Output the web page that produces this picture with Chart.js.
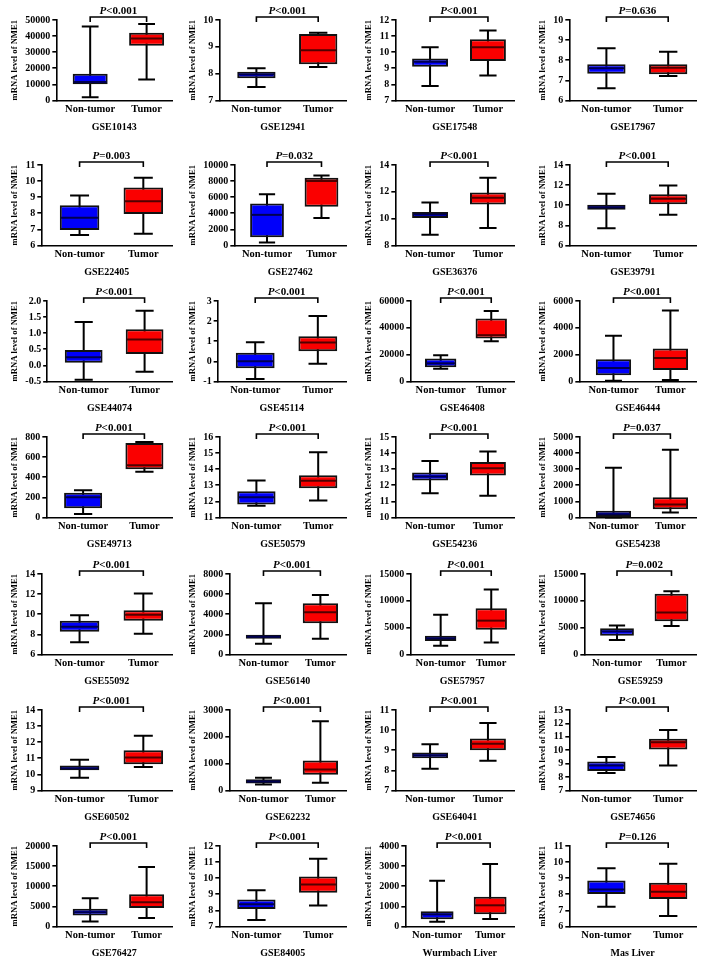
<!DOCTYPE html>
<html>
<head>
<meta charset="utf-8">
<script src="https://cdn.jsdelivr.net/npm/chart.js@4.4.0/dist/chart.umd.min.js"></script>
<style>
body { margin: 0; background: #fff; width: 714px; height: 964px; position: relative; overflow: hidden; }
.cell { position: absolute; height: 137px; }
</style>
</head>
<body>
<script>
// data: [min, q1, median, q3, max]
const datasetNames = ['GSE10143', 'GSE12941', 'GSE17548', 'GSE17967',
    'GSE22405', 'GSE27462', 'GSE36376', 'GSE39791',
    'GSE44074', 'GSE45114', 'GSE46408', 'GSE46444',
    'GSE49713', 'GSE50579', 'GSE54236', 'GSE54238',
    'GSE55092', 'GSE56140', 'GSE57957', 'GSE59259',
    'GSE60502', 'GSE62232', 'GSE64041', 'GSE74656',
    'GSE76427', 'GSE84005', 'Wurmbach Liver', 'Mas Liver']

const groups = ['Non-tumor', 'Tumor']

const pValues = ['<0.001', '<0.001', '<0.001', '=0.636',
    '=0.003', '=0.032', '<0.001', '<0.001',
    '<0.001', '<0.001', '<0.001', '<0.001',
    '<0.001', '<0.001', '<0.001', '=0.037',
    '<0.001', '<0.001', '<0.001', '=0.002',
    '<0.001', '<0.001', '<0.001', '<0.001',
    '<0.001', '<0.001', '<0.001', '=0.126']

const yMin = [0, 7, 7, 6, 6, 0, 8, 6, -0.5, -1, 0, 0, 0, 11, 10, 0, 6, 0, 0, 0, 9, 0, 7, 7, 0, 7, 0, 6]
const yMax = [50000, 10, 12, 10, 11, 10000, 14, 14, 2, 3, 60000, 6000, 800, 16, 15, 5000, 14, 8000, 15000, 15000, 14, 3000, 11, 13, 20000, 12, 4000, 11]
const yStep = [10000, 1, 1, 1, 1, 2000, 2, 2, 0.5, 1, 20000, 2000, 200, 1, 1, 1000, 2, 2000, 5000, 5000, 1, 1000, 1, 1, 5000, 1, 1000, 1]
const yDecimals = [0, 0, 0, 0, 0, 0, 0, 0, 1, 0, 0, 0, 0, 0, 0, 0, 0, 0, 0, 0, 0, 0, 0, 0, 0, 0, 0, 0]

const nonTumor = [
    [2000, 10000, 11500, 16500, 46000],
    [7.5, 7.83, 7.97, 8.07, 8.2],
    [7.9, 9.1, 9.4, 9.6, 10.3],
    [6.6, 7.33, 7.6, 7.8, 8.6],
    [6.65, 6.95, 7.72, 8.5, 9.1],
    [350, 1000, 3800, 5200, 6350],
    [8.8, 10.05, 10.3, 10.5, 11.2],
    [7.7, 9.55, 9.8, 10.05, 11.15],
    [-0.45, 0.08, 0.25, 0.48, 1.35],
    [-0.88, -0.35, 0.0, 0.42, 0.95],
    [9500, 10500, 13500, 17000, 19500],
    [50, 450, 1000, 1650, 3400],
    [35, 90, 200, 245, 270],
    [11.72, 11.8, 12.25, 12.62, 13.3],
    [11.5, 12.3, 12.55, 12.8, 13.5],
    [0, 30, 200, 420, 3080],
    [7.2, 8.25, 8.75, 9.35, 9.9],
    [1050, 1550, 1750, 1950, 5100],
    [1600, 2500, 3000, 3500, 7400],
    [2700, 3500, 4300, 4900, 5400],
    [9.78, 10.25, 10.38, 10.55, 10.9],
    [220, 260, 330, 420, 470],
    [8.08, 8.6, 8.75, 8.88, 9.3],
    [8.3, 8.45, 8.85, 9.15, 9.5],
    [1200, 2700, 3500, 4400, 7000],
    [7.4, 8.08, 8.38, 8.68, 9.25],
    [230, 350, 600, 750, 2270],
    [7.22, 8.02, 8.3, 8.85, 9.62]
]

const tumor = [
    [13000, 34000, 38500, 42000, 47500],
    [8.25, 8.35, 8.87, 9.48, 9.52],
    [8.55, 9.45, 10.3, 10.8, 11.35],
    [7.22, 7.3, 7.62, 7.8, 8.42],
    [6.72, 7.95, 8.75, 9.6, 10.2],
    [3400, 4800, 8000, 8400, 8700],
    [9.3, 11.05, 11.55, 11.95, 13.05],
    [9.05, 10.1, 10.65, 11.1, 11.95],
    [-0.2, 0.35, 0.8, 1.12, 1.7],
    [-0.12, 0.5, 0.93, 1.25, 2.25],
    [30000, 32000, 34500, 47000, 52500],
    [100, 850, 1750, 2450, 5300],
    [455, 480, 520, 740, 750],
    [12.05, 12.82, 13.28, 13.62, 15.05],
    [11.35, 12.6, 13.05, 13.45, 14.1],
    [300, 500, 800, 1250, 4200],
    [8.05, 9.35, 9.95, 10.4, 12.05],
    [1550, 3100, 4200, 5100, 5900],
    [2200, 4600, 6300, 8600, 12100],
    [5300, 6200, 7800, 11300, 11800],
    [10.45, 10.62, 11.05, 11.5, 12.4],
    [290, 580, 780, 1120, 2580],
    [8.48, 9.0, 9.32, 9.58, 10.35],
    [8.85, 10.05, 10.6, 10.85, 11.5],
    [2100, 4600, 6000, 8000, 14800],
    [8.3, 9.1, 9.6, 10.1, 11.2],
    [370, 600, 1050, 1480, 3100],
    [6.65, 7.7, 8.15, 8.72, 9.9]
]

const SERIF = '"Liberation Serif", "Times New Roman", serif'
const fillColors = ['#0000fa', '#fa0000']
const medianColors = ['#000050', '#500000']

// page layout
const rowTops = [0, 145, 281, 417, 554, 690, 826]
const colLefts = [10, 188, 364, 538]
const colWidths = [164, 160, 152, 160]

// whiskers behind the boxes, medians + bracket on top
const boxPlugin = {
    id: 'boxes',
    beforeDatasetsDraw(chart) {
        let ctx = chart.ctx
        let y = chart.scales.y
        let stats = chart.options.plugins.boxes.stats
        chart.getDatasetMeta(0).data.forEach((bar, i) => {
            let s = stats[i]
            let cap = bar.width * 0.24
            ctx.save()
            ctx.strokeStyle = '#000'
            ctx.lineWidth = 2
            ctx.beginPath()
            ctx.moveTo(bar.x, y.getPixelForValue(s[0]))
            ctx.lineTo(bar.x, y.getPixelForValue(s[4]))
            ctx.moveTo(bar.x - cap, y.getPixelForValue(s[0]))
            ctx.lineTo(bar.x + cap, y.getPixelForValue(s[0]))
            ctx.moveTo(bar.x - cap, y.getPixelForValue(s[4]))
            ctx.lineTo(bar.x + cap, y.getPixelForValue(s[4]))
            ctx.stroke()
            ctx.restore()
        })
    },
    afterDatasetsDraw(chart) {
        let ctx = chart.ctx
        let y = chart.scales.y
        let opts = chart.options.plugins.boxes
        let bars = chart.getDatasetMeta(0).data
        bars.forEach((bar, i) => {
            let s = opts.stats[i]
            let half = bar.width / 2 - 1
            ctx.save()
            ctx.strokeStyle = medianColors[i]
            ctx.lineWidth = 2
            ctx.beginPath()
            ctx.moveTo(bar.x - half, y.getPixelForValue(s[2]))
            ctx.lineTo(bar.x + half, y.getPixelForValue(s[2]))
            ctx.stroke()
            ctx.restore()
        })

        // significance bracket
        let top = chart.chartArea.top - 3
        let x0 = bars[0].x, x1 = bars[1].x
        ctx.save()
        ctx.strokeStyle = '#000'
        ctx.lineWidth = 1.6
        ctx.beginPath()
        ctx.moveTo(x0, top + 5)
        ctx.lineTo(x0, top)
        ctx.lineTo(x1, top)
        ctx.lineTo(x1, top + 5)
        ctx.stroke()

        ctx.fillStyle = '#000'
        ctx.textBaseline = 'alphabetic'
        let italic = 'italic bold 11px ' + SERIF
        let plain = 'bold 11px ' + SERIF
        ctx.font = italic
        let wP = ctx.measureText('P').width
        ctx.font = plain
        let wRest = ctx.measureText(opts.p).width
        let start = (x0 + x1) / 2 - (wP + wRest) / 2
        ctx.font = italic
        ctx.fillText('P', start, top - 3)
        ctx.font = plain
        ctx.fillText(opts.p, start + wP, top - 3)
        ctx.restore()
    }
}

datasetNames.map((name, i) => {
    let row = Math.floor(i / 4)
    let col = i % 4

    let cell = document.createElement('div')
    cell.className = 'cell'
    cell.style.left = colLefts[col] + 'px'
    cell.style.top = rowTops[row] + 'px'
    cell.style.width = colWidths[col] + 'px'
    let canvas = document.createElement('canvas')
    cell.appendChild(canvas)
    document.body.appendChild(cell)

    let stats = [nonTumor[i], tumor[i]]

    new Chart(canvas.getContext('2d'), {
        type: 'bar',
        data: {
            datasets: [{
                data: stats.map((s, g) => ({ x: g, y: [s[1], s[3]] })),
                backgroundColor: fillColors,
                borderColor: '#111',
                borderWidth: 2,
                borderSkipped: false,
                categoryPercentage: 1,
                barPercentage: 0.62
            }]
        },
        options: {
            responsive: true,
            maintainAspectRatio: false,
            animation: false,
            layout: { padding: { top: 20, right: 2, bottom: 0, left: 0 } },
            plugins: {
                legend: { display: false },
                tooltip: { enabled: false },
                boxes: { stats: stats, p: pValues[i] }
            },
            scales: {
                x: {
                    type: 'linear',
                    min: -0.6,
                    max: 1.45,
                    offset: false,
                    afterBuildTicks: (axis) => { axis.ticks = groups.map((g, k) => ({ value: k })) },
                    grid: { display: false, drawTicks: false, offset: false },
                    border: { display: true, color: '#000', width: 1.6 },
                    ticks: {
                        autoSkip: false,
                        maxRotation: 0,
                        color: '#000',
                        padding: 3,
                        font: { family: SERIF, size: 10.5, weight: 'bold' },
                        callback: (v) => groups[v]
                    },
                    title: { display: true, text: name, color: '#000', padding: { top: 2, bottom: 4 }, font: { family: SERIF, size: 10, weight: 'bold' } }
                },
                y: {
                    min: yMin[i],
                    max: yMax[i],
                    grid: { display: true, drawOnChartArea: false, drawTicks: true, tickLength: 4, color: '#000', lineWidth: 1.6 },
                    border: { display: true, color: '#000', width: 1.6 },
                    ticks: {
                        stepSize: yStep[i],
                        autoSkip: false,
                        color: '#000',
                        padding: 2,
                        font: { family: SERIF, size: 10, weight: 'bold' },
                        callback: (v) => v.toFixed(yDecimals[i])
                    },
                    title: { display: true, text: 'mRNA level of NME1', color: '#000', padding: { top: 0, bottom: 3 }, font: { family: SERIF, size: 8.6, weight: 'bold' } }
                }
            }
        },
        plugins: [boxPlugin]
    })
})
</script>
</body>
</html>
